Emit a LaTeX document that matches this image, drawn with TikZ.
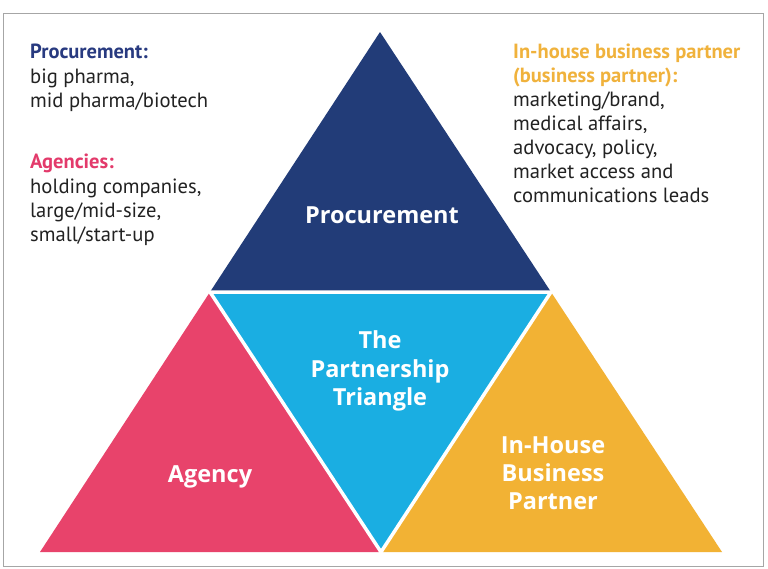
\documentclass[tikz,border=0pt]{standalone}
\usepackage{fontspec}
\setmainfont{PT Sans}
\newfontfamily\labelfont{Open Sans}
\definecolor{navy}{HTML}{223C78}
\definecolor{pinkc}{HTML}{E8436B}
\definecolor{bluec}{HTML}{1AAEE2}
\definecolor{yellowc}{HTML}{F2B234}
\definecolor{navytext}{HTML}{283A80}
\definecolor{pinktext}{HTML}{E33A6B}
\definecolor{orangetext}{HTML}{F0B23C}
\definecolor{bodytext}{HTML}{222222}
\begin{document}
\begin{tikzpicture}[x=1pt,y=-1pt,
  side/.style={anchor=base west, inner sep=0pt, font=\fontsize{20.6}{24}\selectfont, text=bodytext},
  sidehead/.style={side, font=\fontsize{20.5}{24}\selectfont\bfseries},
  tri/.style={inner sep=0pt, align=center, text=white, font=\labelfont\bfseries\fontsize{23.5}{28}\selectfont}]
\useasboundingbox (0,0) rectangle (768,568);
\fill[white] (0,0) rectangle (768,568);
\draw[black!35, line width=1pt] (3,13) rectangle (763,566);
\coordinate (A) at (380,32);
\coordinate (L) at (40,552);
\coordinate (R) at (722,552);
\coordinate (ML) at (210,292);
\coordinate (MR) at (551,292);
\coordinate (MB) at (381,552);
\fill[navy] (A) -- (ML) -- (MR) -- cycle;
\fill[pinkc] (ML) -- (L) -- (MB) -- cycle;
\fill[yellowc] (MR) -- (MB) -- (R) -- cycle;
\fill[bluec] (ML) -- (MR) -- (MB) -- cycle;
\draw[white, line width=3.5pt] (ML) -- (MR) -- (MB) -- cycle;
% triangle labels
\node[tri, anchor=base] (proc) at (382,223) {Procurement};
\node[tri, anchor=base] (the) at (380,348) {The};
\node[tri, anchor=base] (partner) at (380,377) {Partnership};
\node[tri, anchor=base] (triangle) at (380,405) {Triangle};
\node[tri, anchor=base] (agency) at (210,482) {Agency};
\node[tri, anchor=base] (inh1) at (553,453) {In-House};
\node[tri, anchor=base] (inh2) at (553,481) {Business};
\node[tri, anchor=base] (inh3) at (553,509) {Partner};
% left text
\node[sidehead, text=navytext] (h1) at (30,58) {Procurement:};
\node[side] (l1) at (30,83) {big pharma,};
\node[side] (l2) at (30,107) {mid pharma/biotech};
\node[sidehead, text=pinktext] (h2) at (30,168) {Agencies:};
\node[side] (l3) at (30,193) {holding companies,};
\node[side] (l4) at (30,217) {large/mid-size,};
\node[side] (l5) at (30,241) {small/start-up};
% right text
\node[sidehead, text=orangetext] (h3) at (513,58) {In-house business partner};
\node[sidehead, text=orangetext] (h4) at (513,82) {(business partner):};
\node[side] (r1) at (513,106) {marketing/brand,};
\node[side] (r2) at (513,130) {medical affairs,};
\node[side] (r3) at (513,154) {advocacy, policy,};
\node[side] (r4) at (513,178) {market access and};
\node[side] (r5) at (513,202) {communications leads};
\end{tikzpicture}
\end{document}
